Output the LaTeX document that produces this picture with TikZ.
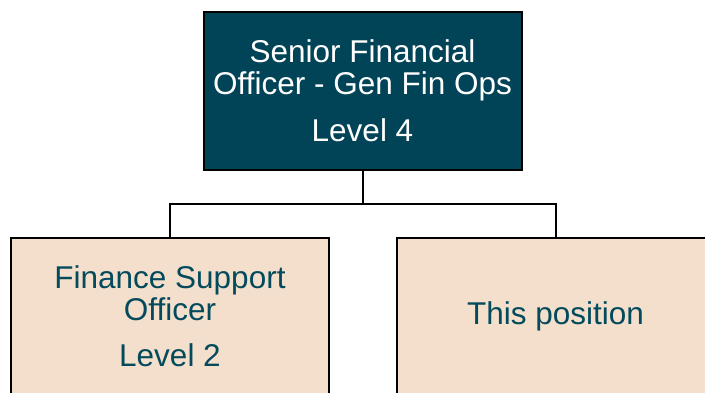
\documentclass[tikz,border=0pt]{standalone}
\usepackage{fontspec}
\setmainfont{Liberation Sans}
\usetikzlibrary{positioning}
\definecolor{deepteal}{HTML}{024457}
\definecolor{peach}{HTML}{F3DFCB}
\definecolor{tealtext}{HTML}{034A5C}
\tikzset{font=\fontsize{31.5}{32}\selectfont}
\tikzset{post/.style={draw=black,line width=2pt,minimum width=318pt,minimum height=158pt,inner sep=0pt,align=center}}
\tikzset{boss/.style={post,fill=deepteal,text=white}}
\tikzset{staff/.style={post,fill=peach,text=tealtext}}
\tikzset{link/.style={draw=black,line width=2pt}}

\begin{document}
\begin{tikzpicture}[x=1pt,y=-1pt]
  \useasboundingbox (0,0) rectangle (705,392);
  \clip (0,0) rectangle (705,392);
  \node[boss] (sfo) at (362.5,90.5) {Senior Financial\\Officer - Gen Fin Ops\\[15pt]Level 4};
  \node[staff] (fso) at (170,316.5) {Finance Support\\Officer\\[14pt]Level 2};
  \node[staff] (this) at (555.5,316.5) {This position};
  \coordinate (split) at (362.5,204);
  \draw[link] (sfo.south) -- (split);
  \draw[link] (split) -| (fso.north);
  \draw[link] (split) -| (this.north);
\end{tikzpicture}
\end{document}
